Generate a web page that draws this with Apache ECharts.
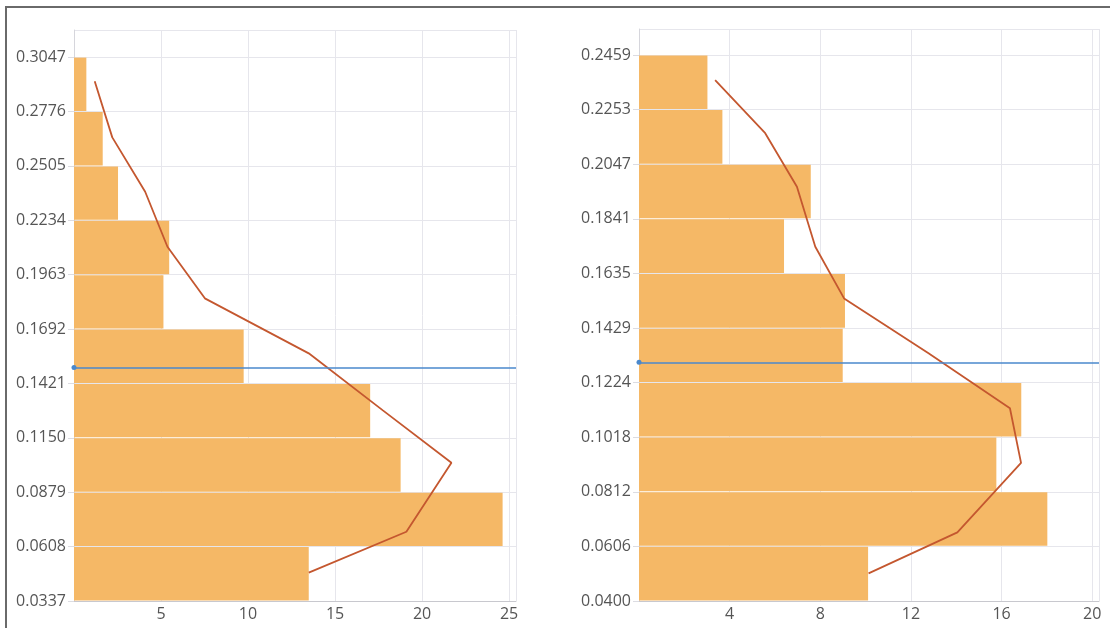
<!DOCTYPE html>
<html>
<head>
<meta charset="utf-8">
<title>Histogram with density curve</title>
<script src="https://cdn.jsdelivr.net/npm/echarts@6/dist/echarts.min.js"></script>
<style>
  html, body { margin: 0; padding: 0; background: #ffffff; }
  #chart { width: 1110px; height: 628px; }
</style>
</head>
<body>
<div id="chart"></div>
<script>
// Bin edges (bottom to top) for each panel
const leftBinEdges  = [0.0337, 0.0608, 0.0879, 0.1150, 0.1421, 0.1692, 0.1963, 0.2234, 0.2505, 0.2776, 0.3047];
const rightBinEdges = [0.0400, 0.0606, 0.0812, 0.1018, 0.1224, 0.1429, 0.1635, 0.1841, 0.2047, 0.2253, 0.2459];

// Bar lengths per bin (bottom to top)
const leftCounts  = [13.49, 24.63, 18.77, 17.02, 9.75, 5.14, 5.47, 2.53, 1.65, 0.71];
const rightCounts = [10.11, 18.02, 15.77, 16.87, 8.99, 9.09, 6.40, 7.58, 3.68, 3.02];

// Density curve vertices
const leftCurveX  = [13.49, 19.10, 21.69, 17.73, 13.49, 7.52, 5.37, 4.09, 2.20, 1.19];
const leftCurveY  = [0.0478, 0.0682, 0.1026, 0.1288, 0.1571, 0.1845, 0.2102, 0.2376, 0.2647, 0.2927];
const rightCurveX = [10.13, 14.05, 16.86, 16.37, 12.76, 9.05, 7.78, 6.97, 5.57, 3.36];
const rightCurveY = [0.0504, 0.0659, 0.0921, 0.1127, 0.1335, 0.1541, 0.1736, 0.1962, 0.2164, 0.2364];

// Reference levels
const leftMean  = 0.1498;
const rightMean = 0.1284;

// Axis settings
const leftYStep  = 0.0271;
const rightYStep = 0.020588;
const leftYMax   = 0.3182;
const rightYMax  = 0.2557;
const leftXMax   = 25.4;
const rightXMax  = 20.3;
const leftXStep  = 5;
const rightXStep = 4;

const BAR_COLOR   = '#f5b866';
const CURVE_COLOR = '#c4572f';
const MEAN_COLOR  = '#4a88cc';
const LABEL_COLOR = '#555555';
const GRID_COLOR  = '#e6e6ec';
const FONT = '"Open Sans", "Noto Sans", sans-serif';

function binRows(edges, counts) {
  return counts.map((c, i) => [edges[i], edges[i + 1], c]);
}

function renderBin(params, api) {
  const y0 = api.value(0), y1 = api.value(1), c = api.value(2);
  const pBottom = api.coord([0, y0]);
  const pTop = api.coord([c, y1]);
  return {
    type: 'rect',
    shape: {
      x: pBottom[0],
      y: pTop[1] + 0.5,
      width: pTop[0] - pBottom[0],
      height: pBottom[1] - pTop[1] - 1
    },
    style: { fill: BAR_COLOR }
  };
}

function yAxisFor(grid, edges, step, max) {
  return {
    type: 'value', gridIndex: grid,
    min: edges[0], max: max, interval: step,
    axisLine: { show: true, lineStyle: { color: '#d6d6dc', width: 1 } },
    axisTick: { show: true, length: 6, lineStyle: { color: '#dcdce2' } },
    axisLabel: {
      showMaxLabel: false, margin: 8, color: LABEL_COLOR,
      fontFamily: FONT, fontSize: 16,
      formatter: v => v.toFixed(4)
    },
    splitLine: { show: true, lineStyle: { color: GRID_COLOR, width: 1 } }
  };
}

function xAxisFor(grid, step, max) {
  return {
    type: 'value', gridIndex: grid,
    min: 0, max: max, interval: step,
    axisLine: { show: true, lineStyle: { color: '#c8c8ce', width: 1 } },
    axisTick: { show: false },
    axisLabel: {
      showMinLabel: false, showMaxLabel: false, margin: 5,
      color: LABEL_COLOR, fontFamily: FONT, fontSize: 16
    },
    splitLine: { show: true, lineStyle: { color: GRID_COLOR, width: 1 } }
  };
}

function curveData(xs, ys) {
  return xs.map((x, i) => [x, ys[i]]);
}

function meanLine(value) {
  return {
    silent: true,
    symbol: ['circle', 'none'],
    symbolSize: 5,
    label: { show: false },
    itemStyle: { color: '#3a5f86' },
    lineStyle: { color: MEAN_COLOR, width: 1.5, type: 'solid' },
    emphasis: { disabled: true },
    animation: false,
    data: [{ yAxis: value }]
  };
}

const chart = echarts.init(document.getElementById('chart'), null, { renderer: 'canvas' });

chart.setOption({
  animation: false,
  backgroundColor: '#ffffff',
  grid: [
    { left: 74, top: 30, width: 442, bottom: 27, containLabel: false },
    { left: 639, top: 29, width: 460, bottom: 27, containLabel: false }
  ],
  xAxis: [
    xAxisFor(0, leftXStep, leftXMax),
    xAxisFor(1, rightXStep, rightXMax)
  ],
  yAxis: [
    yAxisFor(0, leftBinEdges, leftYStep, leftYMax),
    yAxisFor(1, rightBinEdges, rightYStep, rightYMax)
  ],
  graphic: [
    {
      type: 'polyline',
      shape: { points: [[6, 628], [6, 7], [1110, 7]] },
      style: { stroke: '#6a6a6a', lineWidth: 2, fill: null },
      silent: true
    }
  ],
  series: [
    {
      type: 'custom', xAxisIndex: 0, yAxisIndex: 0,
      renderItem: renderBin,
      encode: { x: 2, y: [0, 1] },
      data: binRows(leftBinEdges, leftCounts)
    },
    {
      type: 'line', xAxisIndex: 0, yAxisIndex: 0,
      data: curveData(leftCurveX, leftCurveY),
      showSymbol: false, symbol: 'none',
      lineStyle: { color: CURVE_COLOR, width: 1.8 },
      itemStyle: { color: CURVE_COLOR },
      markLine: meanLine(leftMean),
      z: 3
    },
    {
      type: 'custom', xAxisIndex: 1, yAxisIndex: 1,
      renderItem: renderBin,
      encode: { x: 2, y: [0, 1] },
      data: binRows(rightBinEdges, rightCounts)
    },
    {
      type: 'line', xAxisIndex: 1, yAxisIndex: 1,
      data: curveData(rightCurveX, rightCurveY),
      showSymbol: false, symbol: 'none',
      lineStyle: { color: CURVE_COLOR, width: 1.8 },
      itemStyle: { color: CURVE_COLOR },
      markLine: meanLine(rightMean),
      z: 3
    }
  ]
});
</script>
</body>
</html>
